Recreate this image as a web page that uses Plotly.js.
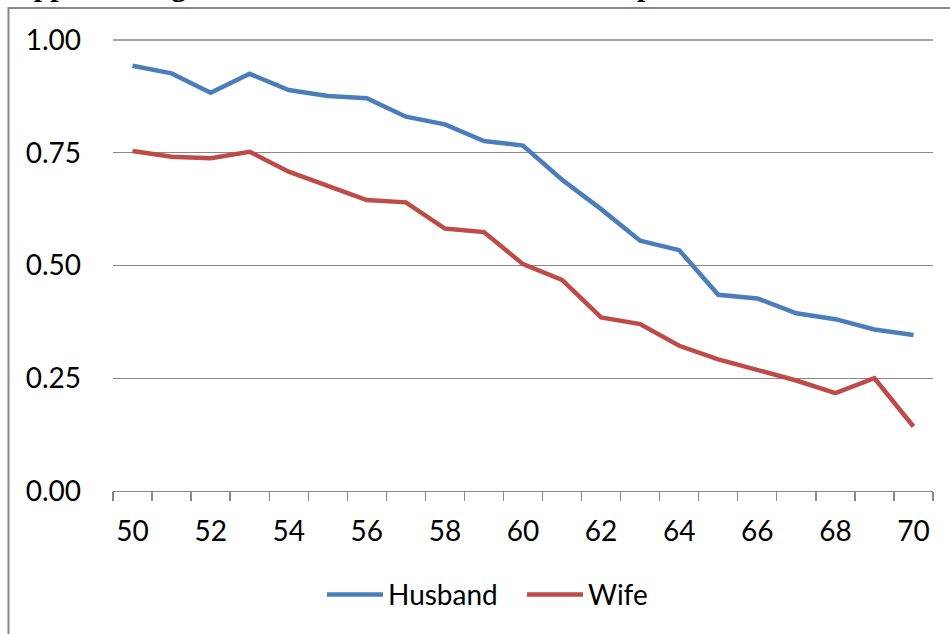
<!DOCTYPE html>
<html>
<head>
<meta charset="utf-8">
<script src="https://cdn.plot.ly/plotly-3.0.1.min.js"></script>
<style>
  html, body { margin: 0; padding: 0; background: #fff; }
  #chart { width: 950px; height: 634px; }
</style>
</head>
<body>
<div id="chart"></div>
<script>
const ages = [50,51,52,53,54,55,56,57,58,59,60,61,62,63,64,65,66,67,68,69,70];
const husband = [0.943,0.926,0.883,0.925,0.889,0.876,0.871,0.830,0.813,0.776,0.766,0.690,0.625,0.555,0.534,0.435,0.427,0.394,0.381,0.358,0.346];
const wife = [0.754,0.741,0.738,0.752,0.708,0.677,0.645,0.640,0.582,0.574,0.503,0.468,0.385,0.370,0.322,0.292,0.268,0.245,0.217,0.250,0.143];
const xTicks = [50,52,54,56,58,60,62,64,66,68,70];
const yTicks = [0,0.25,0.5,0.75,1.0];
const yTickText = ['0.00','0.25','0.50','0.75','1.00'];
const seriesNames = ['Husband','Wife'];
const titleText = 'Appendix Figure 1: Baseline Labor Force Participation Rates of Husband and Wife';

const font = 'Lato, Calibri, Carlito, sans-serif';

const traces = [
  {x: ages, y: husband, name: seriesNames[0], type: 'scatter', mode: 'lines',
   line: {color: '#4A7EBB', width: 4.5}},
  {x: ages, y: wife, name: seriesNames[1], type: 'scatter', mode: 'lines',
   line: {color: '#BE4B48', width: 4.5}}
];

const layout = {
  width: 950, height: 634,
  margin: {l: 113, r: 17, t: 40, b: 143},
  paper_bgcolor: '#fff', plot_bgcolor: '#fff',
  font: {family: font, size: 28, color: '#000'},
  showlegend: true,
  legend: {orientation: 'h', x: (322 - 113) / 820, xanchor: 'left', y: -0.23, yanchor: 'middle',
           itemwidth: 56, entrywidth: 129, entrywidthmode: 'pixels',
           font: {family: font, size: 28, color: '#000'}, traceorder: 'normal'},
  xaxis: {
    range: [49.5, 70.5], tickvals: xTicks, ticktext: xTicks.map(String),
    showgrid: false, zeroline: false, showline: true, linecolor: '#888', linewidth: 1.3,
    ticks: '', ticklabelstandoff: 15,
    minor: {tick0: 49.5, dtick: 1, ticks: 'outside', ticklen: 9, tickcolor: '#888', tickwidth: 1.3, showgrid: false},
    tickfont: {family: font, size: 28, color: '#000'}, fixedrange: true
  },
  yaxis: {
    range: [0, 1.0], tickvals: yTicks, ticktext: yTickText,
    showgrid: true, gridcolor: '#888', gridwidth: 1.3, zeroline: false, showline: false,
    ticks: '', ticklabelstandoff: 31,
    tickfont: {family: font, size: 28, color: '#000'}, fixedrange: true
  },
  shapes: [
    {type: 'rect', xref: 'paper', yref: 'paper',
     x0: (8.5 - 113) / 820, x1: 1.3, y0: -0.6, y1: (491 - 8) / 451,
     line: {color: '#888', width: 2}, fillcolor: 'rgba(0,0,0,0)', layer: 'below'},
    {type: 'line', xref: 'paper', yref: 'paper', x0: 0, x1: 1, y0: 1, y1: 1,
     line: {color: '#888', width: 1.3}, layer: 'below'}
  ],
  annotations: [
    {text: '<b>' + titleText + '</b>', xref: 'paper', yref: 'paper',
     x: (10 - 113) / 820, xanchor: 'left', y: (491 - 4) / 451, yanchor: 'bottom',
     showarrow: false, font: {family: '"Liberation Serif", "Times New Roman", serif', size: 30, color: '#000'}}
  ]
};

Plotly.newPlot('chart', traces, layout, {displayModeBar: false, staticPlot: true});
</script>
</body>
</html>
